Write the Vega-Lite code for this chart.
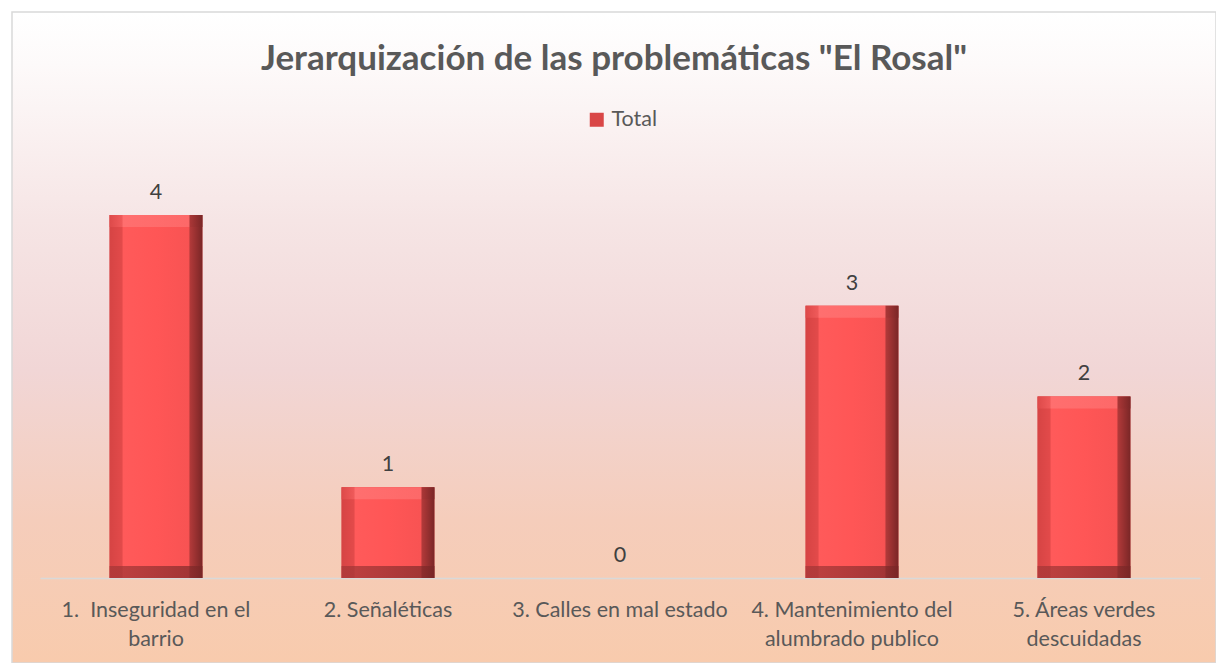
{
  "$schema": "https://vega.github.io/schema/vega-lite/v6.json",
  "width": 1204,
  "height": 651,
  "autosize": {"type": "none"},
  "padding": {"left": 12, "top": 12, "right": 0, "bottom": 0},
  "background": "#FFFFFF",
  "view": {
    "stroke": "#D9D9D9",
    "strokeWidth": 1.5,
    "fill": {
      "gradient": "linear", "x1": 0, "y1": 0, "x2": 0, "y2": 1,
      "stops": [
        {"offset": 0, "color": "#FFFFFF"},
        {"offset": 0.08, "color": "#FDFAFA"},
        {"offset": 0.32, "color": "#F6E5E5"},
        {"offset": 0.55, "color": "#F1D6D6"},
        {"offset": 0.78, "color": "#F5CDBB"},
        {"offset": 1, "color": "#F8CBAD"}
      ]
    }
  },
  "title": {
    "text": "Jerarquización de las problemáticas \"El Rosal\"",
    "font": "Lato",
    "fontSize": 35,
    "fontWeight": "bold",
    "color": "#595959",
    "offset": -65,
    "anchor": "middle",
    "frame": "group"
  },
  "data": {
    "values": [
      {"Problematica": "1.  Inseguridad en el barrio", "Total": 4, "Serie": "Total"},
      {"Problematica": "2. Señaléticas", "Total": 1, "Serie": "Total"},
      {"Problematica": "3. Calles en mal estado", "Total": 0, "Serie": "Total"},
      {"Problematica": "4. Mantenimiento del alumbrado publico", "Total": 3, "Serie": "Total"},
      {"Problematica": "5. Áreas verdes descuidadas", "Total": 2, "Serie": "Total"}
    ]
  },
  "encoding": {
    "x": {
      "field": "Problematica",
      "type": "nominal",
      "sort": null,
      "scale": {"range": [28, 1188], "paddingInner": 0.6, "paddingOuter": 0.3},
      "axis": {
        "orient": "bottom",
        "offset": -85,
        "title": null,
        "labelAngle": 0,
        "ticks": false,
        "domainColor": "#D9D9D9",
        "domainWidth": 1.5,
        "labelFont": "Lato",
        "labelFontSize": 21.5,
        "labelColor": "#595959",
        "labelPadding": 21,
        "labelLineHeight": 29,
        "labelLimit": 0,
        "labelExpr": "datum.value == '1.  Inseguridad en el barrio' ? ['1.\u00a0 Inseguridad en el', 'barrio'] : datum.value == '4. Mantenimiento del alumbrado publico' ? ['4. Mantenimiento del', 'alumbrado publico'] : datum.value == '5. Áreas verdes descuidadas' ? ['5. Áreas verdes', 'descuidadas'] : datum.value"
      }
    }
  },
  "layer": [
    {
      "mark": {"type": "bar"},
      "encoding": {
        "y": {"field": "Total", "type": "quantitative", "scale": {"domain": [-0.937, 6.237], "nice": false, "zero": false}, "axis": null},
        "y2": {"datum": 0},
        "color": {
          "field": "Serie",
          "type": "nominal",
          "scale": {"range": ["#D94646"]},
          "legend": {
            "orient": "none",
            "legendX": 574,
            "legendY": 97,
            "title": null,
            "symbolType": "square",
            "symbolSize": 196,
            "symbolStrokeWidth": 0,
            "labelFont": "Lato",
            "labelFontSize": 21.5,
            "labelColor": "#595959",
            "labelOffset": 4
          }
        }
      }
    },
    {
      "mark": {
        "type": "bar",
        "color": {
          "gradient": "linear", "x1": 0, "y1": 0, "x2": 1, "y2": 0,
          "stops": [
            {"offset": 0, "color": "#D64444"},
            {"offset": 0.13, "color": "#E24A4A"},
            {"offset": 0.15, "color": "#FF5A5A"},
            {"offset": 0.5, "color": "#FF5656"},
            {"offset": 0.85, "color": "#F85353"},
            {"offset": 0.87, "color": "#B03939"},
            {"offset": 1, "color": "#7A2626"}
          ]
        }
      },
      "encoding": {
        "y": {"field": "Total", "type": "quantitative"},
        "y2": {"datum": 0}
      }
    },
    {
      "transform": [{"filter": "datum.Total > 0"}],
      "mark": {
        "type": "tick",
        "thickness": 12,
        "size": 93,
        "yOffset": 6,
        "color": {
          "gradient": "linear", "x1": 0, "y1": 0, "x2": 1, "y2": 0,
          "stops": [
            {"offset": 0, "color": "#E04C4C"},
            {"offset": 0.13, "color": "#F46060"},
            {"offset": 0.15, "color": "#FF7878"},
            {"offset": 0.85, "color": "#FF7272"},
            {"offset": 0.87, "color": "#A53535"},
            {"offset": 1, "color": "#7A2626"}
          ]
        }
      },
      "encoding": {
        "y": {"field": "Total", "type": "quantitative"}
      }
    },
    {
      "transform": [{"filter": "datum.Total > 0"}],
      "mark": {
        "type": "tick",
        "thickness": 12,
        "size": 93,
        "yOffset": -6,
        "color": {
          "gradient": "linear", "x1": 0, "y1": 0, "x2": 1, "y2": 0,
          "stops": [
            {"offset": 0, "color": "#A53636"},
            {"offset": 0.5, "color": "#8E2F2F"},
            {"offset": 1, "color": "#772626"}
          ]
        }
      },
      "encoding": {
        "y": {"datum": 0}
      }
    },
    {
      "mark": {
        "type": "text",
        "dy": -16,
        "baseline": "alphabetic",
        "font": "Lato",
        "fontSize": 21.5,
        "color": "#404040"
      },
      "encoding": {
        "y": {"field": "Total", "type": "quantitative"},
        "text": {"field": "Total", "type": "quantitative"}
      }
    }
  ]
}
